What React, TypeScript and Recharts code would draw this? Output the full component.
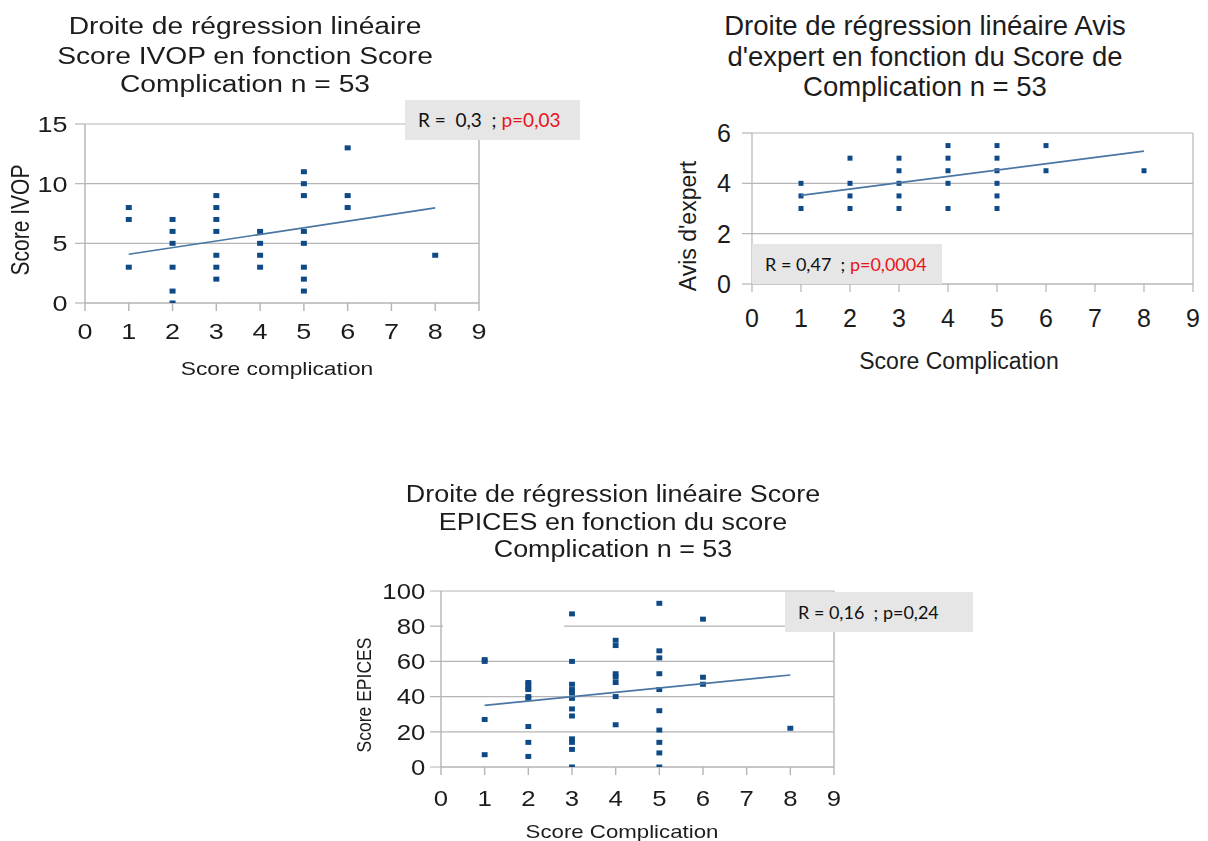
import React from 'react';
import { ScatterChart, Scatter, XAxis, YAxis, CartesianGrid, ReferenceLine } from 'recharts';

// score complication values that actually occur, one list of y values per level
const complicationLevels = [1, 2, 3, 4, 5, 6, 8];
const ivopScores = [
  [8, 7, 3],
  [7, 6, 5, 3, 1, 0],
  [9, 8, 7, 6, 4, 3, 2],
  [6, 5, 4, 3],
  [11, 10, 9, 6, 5, 3, 2, 1],
  [13, 9, 8],
  [4],
];
const expertScores = [
  [4, 3.5, 3],
  [5, 4, 3.5, 3],
  [5, 4.5, 4, 3.5, 3],
  [5.5, 5, 4.5, 4, 3],
  [5.5, 5, 4.5, 4, 3.5, 3],
  [5.5, 4.5],
  [4.5],
];
const epicesScores = [
  [61, 60, 27, 7],
  [48, 47, 45, 44, 40, 39, 23, 14, 6],
  [87, 60, 47, 44, 42, 39, 33, 29, 16, 14, 10, 0],
  [72, 69, 53, 51, 48, 40, 24],
  [93, 66, 62, 53, 44, 32, 21, 14, 8, 0],
  [84, 51, 47],
  [22],
];

// regression line end points (x = 1 and x = 8)
const fitX = [1, 8];
const ivopFit = [4.08, 7.97];
const expertFit = [3.52, 5.28];
const epicesFit = [35, 52.3];

const xTicks = [0, 1, 2, 3, 4, 5, 6, 7, 8, 9];
const ivopTicks = [0, 5, 10, 15];
const expertTicks = [0, 2, 4, 6];
const epicesTicks = [0, 20, 40, 60, 80, 100];

const GRID = '#b5b5b5';
const POINT = '#0f4a87';
const FIT = '#4a76a3';
const TEXT = '#1c1c1c';
const FONT = '"Liberation Sans", Arial, sans-serif';

const toPoints = (scores: number[][]) =>
  complicationLevels.flatMap((c, i) => scores[i].map((y) => ({ x: c, y })));
const toFit = (ends: number[]) => fitX.map((x, i) => ({ x, y: ends[i] }));

function Square(props: any) {
  const { cx, cy } = props;
  if (cx == null || cy == null) return <g />;
  return <rect x={cx - 2.5} y={cy - 2.5} width={5} height={5} fill={POINT} />;
}

interface ChartProps {
  box: { left: number; top: number; width: number; height: number };
  stretch: number;
  plot: { left: number; right: number; top: number; bottom: number };
  yDomain: [number, number];
  yTicks: number[];
  points: { x: number; y: number }[];
  fit: { x: number; y: number }[];
  tickFont: number;
  yTick: { size: number; margin: number };
  xTickMargin: number;
  title: string[];
  titleFont: number;
  titleX: number;
  titleBaselines: number[];
  yLabel: string;
  yLabelFont: number;
  yLabelPos: [number, number];
  xLabel: string;
  xLabelFont: number;
  xLabelPos: [number, number];
}

function RegressionChart(p: ChartProps) {
  const s = p.stretch;
  const W = p.box.width / s;
  const H = p.box.height;
  const yAxisWidth = 60;
  const xAxisHeight = 50;
  const lx = (X: number) => (X - p.box.left) / s;
  const ly = (Y: number) => Y - p.box.top;
  const margin = {
    top: ly(p.plot.top),
    right: W - lx(p.plot.right),
    left: lx(p.plot.left) - yAxisWidth,
    bottom: H - ly(p.plot.bottom) - xAxisHeight,
  };
  const tick = { fontSize: p.tickFont, fill: TEXT, fontFamily: FONT };

  return (
    <div
      style={{
        position: 'absolute',
        left: p.box.left,
        top: p.box.top,
        width: W,
        height: H,
        transform: `scaleX(${s})`,
        transformOrigin: '0 0',
        fontFamily: FONT,
        color: TEXT,
      }}
    >
      {p.title.map((line, i) => (
        <div
          key={i}
          style={{
            position: 'absolute',
            left: lx(p.titleX) - 300,
            width: 600,
            top: ly(p.titleBaselines[i]) - 0.8465 * p.titleFont,
            fontSize: p.titleFont,
            lineHeight: `${p.titleFont}px`,
            textAlign: 'center',
            whiteSpace: 'nowrap',
          }}
        >
          {line}
        </div>
      ))}
      <ScatterChart width={W} height={H} margin={margin}>
        <CartesianGrid vertical={false} stroke={GRID} strokeWidth={1.2} />
        <XAxis
          type="number"
          dataKey="x"
          domain={[0, 9]}
          ticks={xTicks}
          interval={0}
          tick={tick}
          tickSize={8}
          tickMargin={p.xTickMargin}
          tickLine={{ stroke: GRID, strokeWidth: 1.2 }}
          axisLine={{ stroke: GRID, strokeWidth: 1.2 }}
          height={xAxisHeight}
        />
        <YAxis
          type="number"
          dataKey="y"
          domain={p.yDomain}
          ticks={p.yTicks}
          interval={0}
          tick={tick}
          tickSize={p.yTick.size}
          tickMargin={p.yTick.margin}
          tickLine={{ stroke: GRID, strokeWidth: 1.2 }}
          axisLine={{ stroke: GRID, strokeWidth: 1.2 }}
          width={yAxisWidth}
          allowDataOverflow
        />
        <ReferenceLine x={9} stroke={GRID} strokeWidth={1.2} />
        <Scatter data={p.points} shape={Square} isAnimationActive={false} />
        <Scatter
          data={p.fit}
          line={{ stroke: FIT, strokeWidth: 1.6 }}
          shape={() => <g />}
          isAnimationActive={false}
        />
      </ScatterChart>
      <div
        style={{
          position: 'absolute',
          left: lx(p.yLabelPos[0]),
          top: ly(p.yLabelPos[1]),
          fontSize: p.yLabelFont,
          whiteSpace: 'nowrap',
          transform: 'translate(-50%, -50%) rotate(-90deg)',
        }}
      >
        {p.yLabel}
      </div>
      <div
        style={{
          position: 'absolute',
          left: lx(p.xLabelPos[0]) - 200,
          width: 400,
          top: ly(p.xLabelPos[1]) - 0.4885 * p.xLabelFont,
          fontSize: p.xLabelFont,
          lineHeight: `${p.xLabelFont}px`,
          textAlign: 'center',
          whiteSpace: 'nowrap',
        }}
      >
        {p.xLabel}
      </div>
    </div>
  );
}

function StatBox({ left, top, width, fontSize, r, pValue, red }: any) {
  return (
    <div
      style={{
        position: 'absolute',
        left,
        top,
        width,
        height: 40,
        background: '#e6e6e6',
        fontFamily: 'Lato, "Open Sans", sans-serif',
        fontSize,
        lineHeight: '40px',
        paddingLeft: 13,
        boxSizing: 'border-box',
        whiteSpace: 'pre',
        color: '#111',
      }}
    >
      {r}
      <span style={{ color: red ? '#e8141c' : '#111' }}>{pValue}</span>
    </div>
  );
}

export default function App() {
  return (
    <div
      style={{
        position: 'absolute',
        left: 0,
        top: 0,
        width: 1208,
        height: 841,
        background: '#fff',
        overflow: 'hidden',
      }}
    >
      <RegressionChart
        box={{ left: 0, top: 0, width: 500, height: 390 }}
        stretch={1.2}
        plot={{ left: 85, right: 479, top: 124, bottom: 303 }}
        yDomain={[0, 15]}
        yTicks={ivopTicks}
        points={toPoints(ivopScores)}
        fit={toFit(ivopFit)}
        tickFont={22.5}
        yTick={{ size: 8.3, margin: 6.2 }}
        xTickMargin={12}
        title={['Droite de régression linéaire', 'Score IVOP en fonction Score', 'Complication n = 53']}
        titleFont={23.5}
        titleX={245}
        titleBaselines={[35, 65, 93]}
        yLabel="Score IVOP"
        yLabelFont={21}
        yLabelPos={[20, 220]}
        xLabel="Score complication"
        xLabelFont={19}
        xLabelPos={[277, 368]}
      />
      <RegressionChart
        box={{ left: 660, top: 0, width: 548, height: 390 }}
        stretch={1}
        plot={{ left: 752, right: 1193, top: 133, bottom: 284 }}
        yDomain={[0, 6]}
        yTicks={expertTicks}
        points={toPoints(expertScores)}
        fit={toFit(expertFit)}
        tickFont={25}
        yTick={{ size: 10, margin: 11 }}
        xTickMargin={17}
        title={['Droite de régression linéaire Avis', "d'expert en fonction du Score de", 'Complication n = 53']}
        titleFont={27.5}
        titleX={925}
        titleBaselines={[35, 66, 96]}
        yLabel="Avis d'expert"
        yLabelFont={23}
        yLabelPos={[688, 226]}
        xLabel="Score Complication"
        xLabelFont={23}
        xLabelPos={[959, 361]}
      />
      <RegressionChart
        box={{ left: 340, top: 460, width: 560, height: 381 }}
        stretch={1.17}
        plot={{ left: 441, right: 834, top: 591, bottom: 767 }}
        yDomain={[0, 100]}
        yTicks={epicesTicks}
        points={toPoints(epicesScores)}
        fit={toFit(epicesFit)}
        tickFont={22}
        yTick={{ size: 9.4, margin: 4 }}
        xTickMargin={15.3}
        title={['Droite de régression linéaire Score', 'EPICES en fonction du score', 'Complication n = 53']}
        titleFont={23}
        titleX={613}
        titleBaselines={[502, 530, 557]}
        yLabel="Score EPICES"
        yLabelFont={17.5}
        yLabelPos={[365, 695]}
        xLabel="Score Complication"
        xLabelFont={19}
        xLabelPos={[622, 831]}
      />
      {/* the 80 gridline of the third chart is cut in the source image */}
      <div style={{ position: 'absolute', left: 443, top: 624, width: 121, height: 4, background: '#fff' }} />
      <StatBox left={405} top={100} width={175} fontSize={19} r="R =  0,3  ; " pValue="p=0,03" red />
      <StatBox left={752} top={244} width={190} fontSize={18} r="R = 0,47  ; " pValue="p=0,0004" red />
      <StatBox left={785} top={592} width={188} fontSize={18} r="R = 0,16  ; " pValue="p=0,24" />
    </div>
  );
}
